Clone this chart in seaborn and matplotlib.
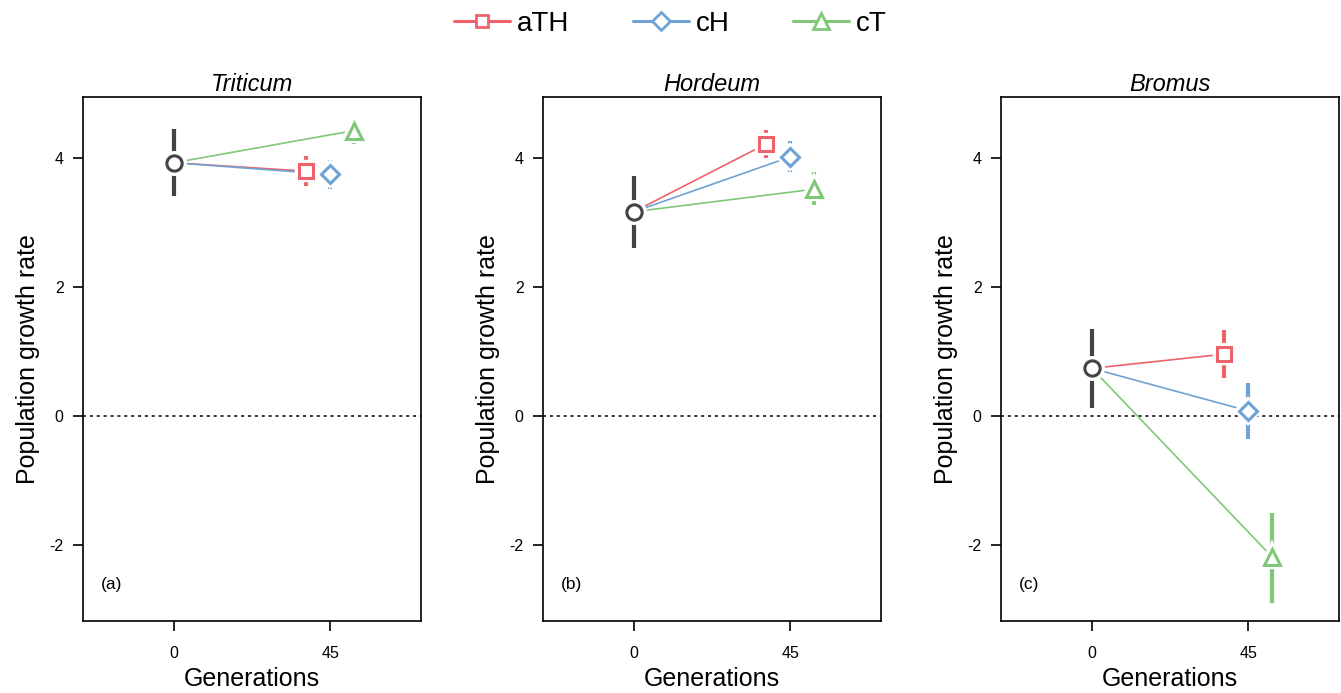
import numpy as np
import pandas as pd
import matplotlib.pyplot as plt
import seaborn as sns
from matplotlib.lines import Line2D

# data
species = ["Triticum", "Hordeum", "Bromus"]
panel_tags = ["(a)", "(b)", "(c)"]
treatments = ["aTH", "cH", "cT"]
generations = [0, 45]

base_mean = [3.93, 3.17, 0.74]
base_lo = [3.42, 2.60, 0.13]
base_hi = [4.46, 3.73, 1.35]

trt_mean = {"Triticum": [3.80, 3.75, 4.43],
            "Hordeum": [4.22, 4.02, 3.52],
            "Bromus": [0.96, 0.08, -2.19]}
trt_lo = {"Triticum": [3.57, 3.52, 4.22],
          "Hordeum": [4.00, 3.78, 3.27],
          "Bromus": [0.59, -0.36, -2.90]}
trt_hi = {"Triticum": [4.03, 3.98, 4.63],
          "Hordeum": [4.44, 4.26, 3.78],
          "Bromus": [1.33, 0.52, -1.51]}

# styling
colors = {"aTH": "#ee636b", "cH": "#6fa3d4", "cT": "#80c878"}
markers = {"aTH": "s", "cH": "D", "cT": "^"}
msize = {"aTH": 9.5, "cH": 9.5, "cT": 12}
dodge = {"aTH": -7, "cH": 0, "cT": 7}
base_col = "#444444"

sns.set_style("ticks")
plt.rcParams["font.family"] = ["Liberation Sans", "DejaVu Sans"]
plt.rcParams["text.color"] = "black"
plt.rcParams["axes.labelcolor"] = "black"
plt.rcParams["xtick.color"] = "black"
plt.rcParams["ytick.color"] = "black"

fig = plt.figure(figsize=(13.41, 6.93), dpi=100)
lefts = [83, 543, 1001]
W, H = 1341, 693

for i, sp in enumerate(species):
    ax = fig.add_axes([lefts[i] / W, 1 - 621 / H, 338 / W, 524 / H])
    gx = [generations[1] + dodge[t] for t in treatments]

    # connecting lines from the start point to each treatment
    seg = pd.DataFrame({
        "x": [generations[0]] * 3 + gx,
        "y": [base_mean[i]] * 3 + trt_mean[sp],
        "trt": treatments * 2,
    })
    sns.lineplot(data=seg, x="x", y="y", hue="trt", palette=colors,
                 estimator=None, sort=False, lw=1.2, legend=False, ax=ax, zorder=2)

    ax.axhline(0, color="black", ls=(0, (2, 2.5)), lw=1.1, zorder=1)

    # error bars
    ax.vlines(generations[0], base_lo[i], base_hi[i], color=base_col, lw=3, zorder=3)
    for t, x, lo, hi in zip(treatments, gx, trt_lo[sp], trt_hi[sp]):
        ax.vlines(x, lo, hi, color=colors[t], lw=3, zorder=3)

    # white halo + open marker
    ax.plot(generations[0], base_mean[i], "o", ms=11, mfc="white", mec="white",
            mew=7, zorder=4)
    ax.plot(generations[0], base_mean[i], "o", ms=11, mfc="white", mec=base_col,
            mew=2.2, zorder=5)
    for t, x, m in zip(treatments, gx, trt_mean[sp]):
        ax.plot(x, m, markers[t], ms=msize[t], mfc="white", mec="white",
                mew=6, zorder=4)
        ax.plot(x, m, markers[t], ms=msize[t], mfc="white", mec=colors[t],
                mew=2.2, zorder=5)

    ax.set_xlim(-26.2, 71.2)
    ax.set_ylim(-3.18, 4.95)
    ax.set_xticks(generations)
    ax.set_xticklabels([str(g) for g in generations])
    ax.set_yticks([-2, 0, 2, 4])
    ax.set_yticklabels(["-2", "0", "2", "4"])
    ax.tick_params(axis="both", direction="out", length=7, width=1.2,
                   labelsize=11.5)
    ax.tick_params(axis="x", pad=11)
    ax.tick_params(axis="y", pad=7)
    for s in ax.spines.values():
        s.set_linewidth(1.2)
        s.set_color("black")
    ax.set_xlabel("Generations", fontsize=18, labelpad=4)
    ax.set_ylabel("Population growth rate", fontsize=18, labelpad=7)
    ax.set_title(sp, fontsize=17, style="italic", pad=4)
    ax.text(0.053, 0.069, panel_tags[i], transform=ax.transAxes,
            fontsize=12.5, va="center", ha="left")

handles = [Line2D([0], [0], color=colors[t], lw=2.2, marker=markers[t],
                  ms=msize[t] * 0.95, mfc="white", mec=colors[t], mew=2)
           for t in treatments]
fig.legend(handles, treatments, loc="upper center", bbox_to_anchor=(0.5, 1.02),
           ncol=3, frameon=False, fontsize=20, handlelength=2.0,
           columnspacing=2.3, handletextpad=0.25)

fig.savefig("out.png", dpi=100)
